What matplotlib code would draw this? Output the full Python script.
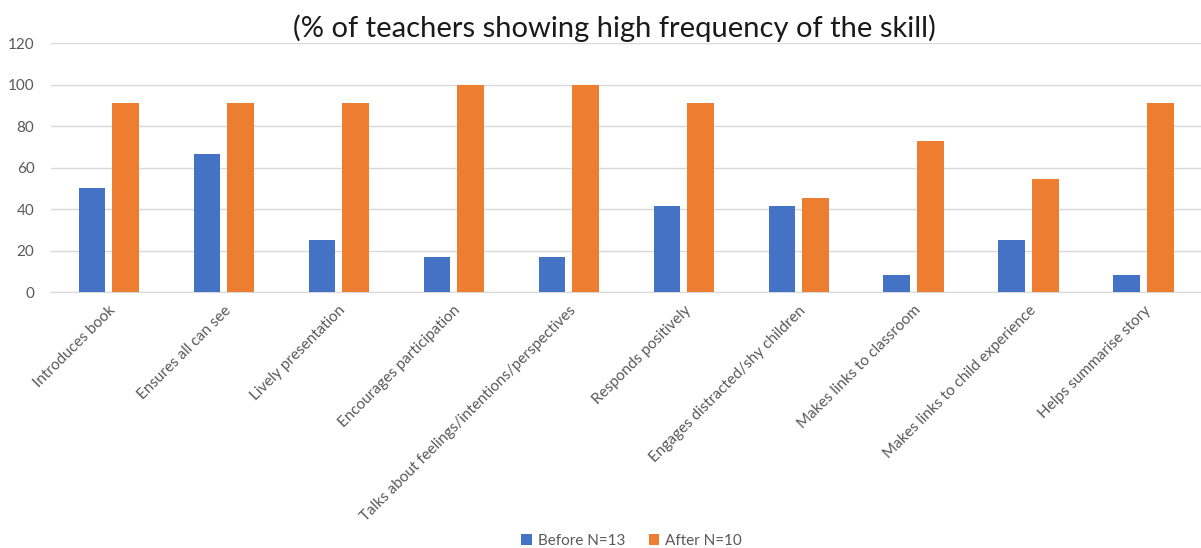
import numpy as np
import matplotlib
matplotlib.use("Agg")
from matplotlib import pyplot as plt

# skills observed during book sharing
skills = ["Introduces book", "Ensures all can see", "Lively presentation",
          "Encourages participation", "Talks about feelings/intentions/perspectives",
          "Responds positively", "Engages distracted/shy children",
          "Makes links to classroom", "Makes links to child experience",
          "Helps summarise story"]
before = [50.0, 66.7, 25.0, 16.7, 16.7, 41.7, 41.7, 8.3, 25.0, 8.3]
after = [90.9, 90.9, 90.9, 100.0, 100.0, 90.9, 45.5, 72.7, 54.5, 90.9]
series_names = ["Before N=13", "After N=10"]
yticks = [0, 20, 40, 60, 80, 100, 120]

plt.rcParams['font.family'] = ['Lato', 'DejaVu Sans']
grey = '#595959'

fig = plt.figure(figsize=(12.01, 5.48), dpi=100)
ax = fig.add_axes([0.0425, 0.467, 0.9575, 0.4545])

x = np.arange(len(skills))
w = 0.23
ax.bar(x - 0.146, before, w, color='#4472c4', label=series_names[0], zorder=3)
ax.bar(x + 0.146, after, w, color='#ed7d31', label=series_names[1], zorder=3)

ax.set_xlim(-0.5, len(skills) - 0.5)
ax.set_ylim(0, 120)
ax.set_yticks(yticks)
ax.yaxis.grid(True, color='#d9d9d9', linewidth=1, zorder=0)
for s in ['top', 'right', 'left']:
    ax.spines[s].set_visible(False)
ax.spines['bottom'].set_color('#d9d9d9')
ax.tick_params(axis='both', length=0, colors=grey, labelsize=11)
ax.tick_params(axis='y', pad=12)

ax.set_xticks(x)
ax.set_xticklabels(skills, rotation=45, ha='right', va='top',
                   rotation_mode='anchor', color=grey, fontsize=11)
ax.tick_params(axis='x', pad=8)

fig.text(0.512, 0.948, "(% of teachers showing high frequency of the skill)",
         ha='center', va='center', fontsize=21, color='#1a1a1a')

ax.legend(loc='center', bbox_to_anchor=(0.505, -1.0), ncol=2, frameon=False,
          fontsize=11, labelcolor=grey, handlelength=0.7, handleheight=0.7,
          columnspacing=1.5, handletextpad=0.4)

fig.savefig("out.png", dpi=100)
